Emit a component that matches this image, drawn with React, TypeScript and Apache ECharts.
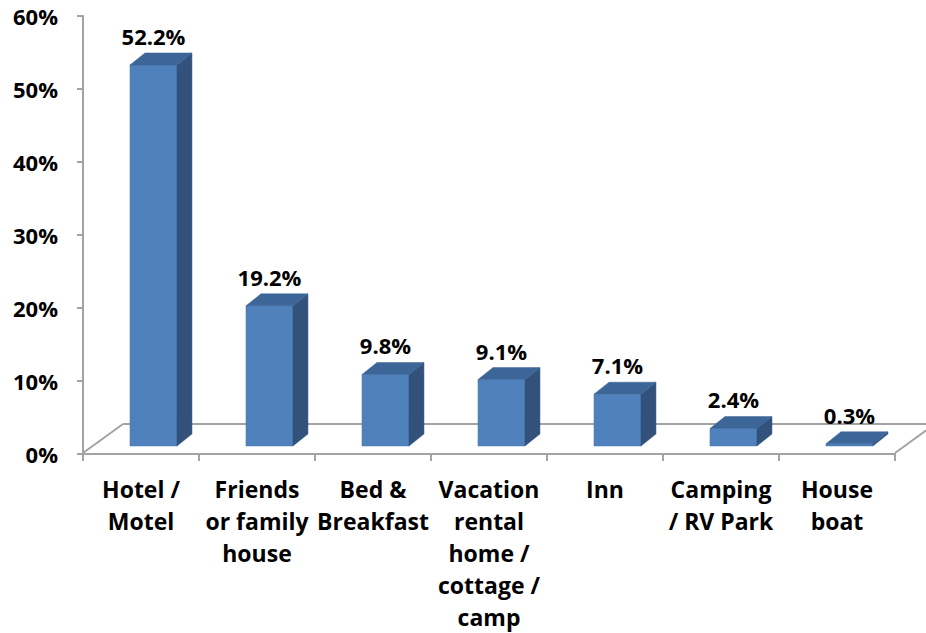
import React, { useEffect, useRef } from "react";
import * as echarts from "echarts";

const categories = [
  "Hotel /\nMotel",
  "Friends\nor family\nhouse",
  "Bed &\nBreakfast",
  "Vacation\nrental\nhome /\ncottage /\ncamp",
  "Inn",
  "Camping\n/ RV Park",
  "House\nboat",
];
const values = [52.2, 19.2, 9.8, 9.1, 7.1, 2.4, 0.3];
const yTicks = { min: 0, max: 60, interval: 10 };

const FONT = "'Open Sans', 'Liberation Sans', sans-serif";

export default function App() {
  const ref = useRef<HTMLDivElement>(null);
  useEffect(() => {
    document.body.style.margin = "0";
    if (!ref.current) return;
    const chart = echarts.init(ref.current, undefined, { renderer: "svg" });
    const gray = "#A3A3A3";
    chart.setOption({
      animation: false,
      backgroundColor: "#ffffff",
      grid: { left: 83, right: 31, top: 16, bottom: 179, containLabel: false },
      xAxis: {
        type: "category",
        data: categories,
        axisLine: { show: true, lineStyle: { color: gray, width: 2 } },
        axisTick: { show: true, length: 7, interval: 0, lineStyle: { color: gray, width: 2 } },
        axisLabel: {
          interval: 0,
          fontSize: 23,
          fontWeight: "bold",
          fontFamily: FONT,
          color: "#000",
          lineHeight: 32,
          margin: 19,
        },
        splitLine: { show: false },
      },
      yAxis: {
        type: "value",
        min: yTicks.min,
        max: yTicks.max,
        interval: yTicks.interval,
        axisLine: { show: true, lineStyle: { color: gray, width: 2 } },
        axisTick: { show: true, length: 6, lineStyle: { color: gray, width: 2 } },
        axisLabel: {
          formatter: "{value}%",
          fontSize: 22,
          fontWeight: "bold",
          fontFamily: FONT,
          color: "#000",
          margin: 25,
          padding: [6, 0, 0, 0],
        },
        splitLine: { show: false },
      },
      series: [
        {
          type: "custom",
          z: 1,
          clip: false,
          silent: true,
          data: [[0, 0]],
          encode: { x: 0, y: 1 },
          renderItem: (params: any, api: any) => {
            const band = api.size([1, 0])[0];
            const c0 = api.coord([0, 0]);
            const c1 = api.coord([categories.length - 1, 0]);
            const x0 = c0[0] - band / 2;
            const x1 = c1[0] + band / 2;
            const y0 = c0[1] - 1;
            const dx = 40;
            const dy = 29;
            const style = { stroke: gray, lineWidth: 2, fill: null };
            return {
              type: "group",
              children: [
                { type: "line", shape: { x1: x0, y1: y0, x2: x0 + dx, y2: y0 - dy }, style },
                { type: "line", shape: { x1: x0 + dx, y1: y0 - dy, x2: x1 + dx, y2: y0 - dy }, style },
                { type: "line", shape: { x1: x1, y1: y0, x2: x1 + dx, y2: y0 - dy }, style },
              ],
            };
          },
        },
        {
          type: "custom",
          z: 3,
          clip: false,
          data: values.map((v, i) => [i, v]),
          encode: { x: 0, y: 1 },
          renderItem: (params: any, api: any) => {
            const idx = api.value(0);
            const val = api.value(1);
            const band = api.size([1, 0])[0];
            const c0 = api.coord([idx, 0]);
            const c1 = api.coord([idx, val]);
            const cx = c0[0];
            const xl = cx - band * 0.095;
            const xr = cx + band * 0.31;
            const yb = c0[1] - 8;
            const yt = c1[1] - 8;
            const dx = 15;
            const dy = 12;
            return {
              type: "group",
              children: [
                {
                  type: "polygon",
                  shape: { points: [[xl, yb], [xr, yb], [xr, yt], [xl, yt]] },
                  style: { fill: "#4F81BD", stroke: "#4A7AB4", lineWidth: 0.5 },
                },
                {
                  type: "polygon",
                  shape: { points: [[xr, yb], [xr + dx, yb - dy], [xr + dx, yt - dy], [xr, yt]] },
                  style: { fill: "#32527B", stroke: "#32527B", lineWidth: 0.5 },
                },
                {
                  type: "polygon",
                  shape: { points: [[xl, yt], [xl + dx, yt - dy], [xr + dx, yt - dy], [xr, yt]] },
                  style: { fill: "#3C6598", stroke: "#3C6598", lineWidth: 0.5 },
                },
                {
                  type: "text",
                  style: {
                    x: (xl + xr) / 2,
                    y: yt - 29,
                    text: val.toFixed(1) + "%",
                    textAlign: "center",
                    textVerticalAlign: "middle",
                    fontSize: 22,
                    fontWeight: "bold",
                    fontFamily: FONT,
                    fill: "#000",
                  },
                },
              ],
            };
          },
        },
      ],
    });
    return () => chart.dispose();
  }, []);
  return <div ref={ref} style={{ width: 926, height: 633 }} />;
}
